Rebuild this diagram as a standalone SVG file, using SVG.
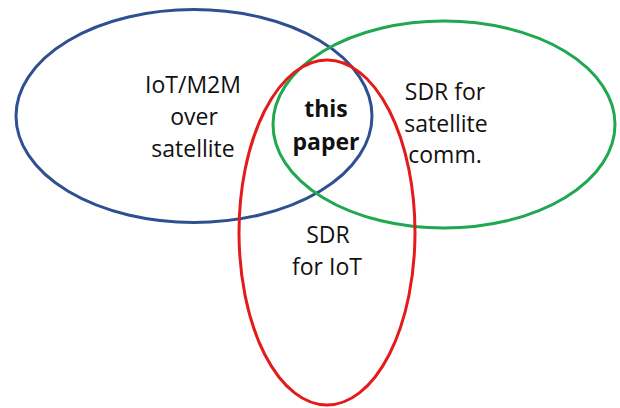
<svg xmlns="http://www.w3.org/2000/svg" width="620" height="408" viewBox="0 0 620 408">
  <style>
    .set { fill: none; stroke-width: 3; }
    .label { font-family: "Open Sans", "Noto Sans", sans-serif; font-size: 23px; fill: #111; text-anchor: middle; }
    .bold { font-weight: bold; }
  </style>
  <rect width="620" height="408" fill="#fff"/>
  <!-- Venn sets: each circle with its label -->
  <g id="iot-m2m">
    <ellipse class="set" cx="194" cy="116" rx="178" ry="106.5" stroke="#2F5090"/>
    <text class="label" x="193" y="93">IoT/M2M</text>
    <text class="label" x="194" y="125">over</text>
    <text class="label" x="193" y="157">satellite</text>
  </g>
  <g id="sdr-satcom">
    <ellipse class="set" cx="444" cy="124.5" rx="171" ry="103.5" stroke="#1FA84F"/>
    <text class="label" x="445" y="100">SDR for</text>
    <text class="label" x="446" y="132">satellite</text>
    <text class="label" x="445" y="163">comm.</text>
  </g>
  <g id="sdr-iot">
    <ellipse class="set" cx="327" cy="232.5" rx="88" ry="172.5" stroke="#E41B1B"/>
    <text class="label" x="328" y="243">SDR</text>
    <text class="label" x="327" y="275">for IoT</text>
  </g>
  <g id="this-paper">
    <text class="label bold" x="326" y="117">this</text>
    <text class="label bold" x="326" y="150">paper</text>
  </g>
  <g id="connectors"/>
</svg>
